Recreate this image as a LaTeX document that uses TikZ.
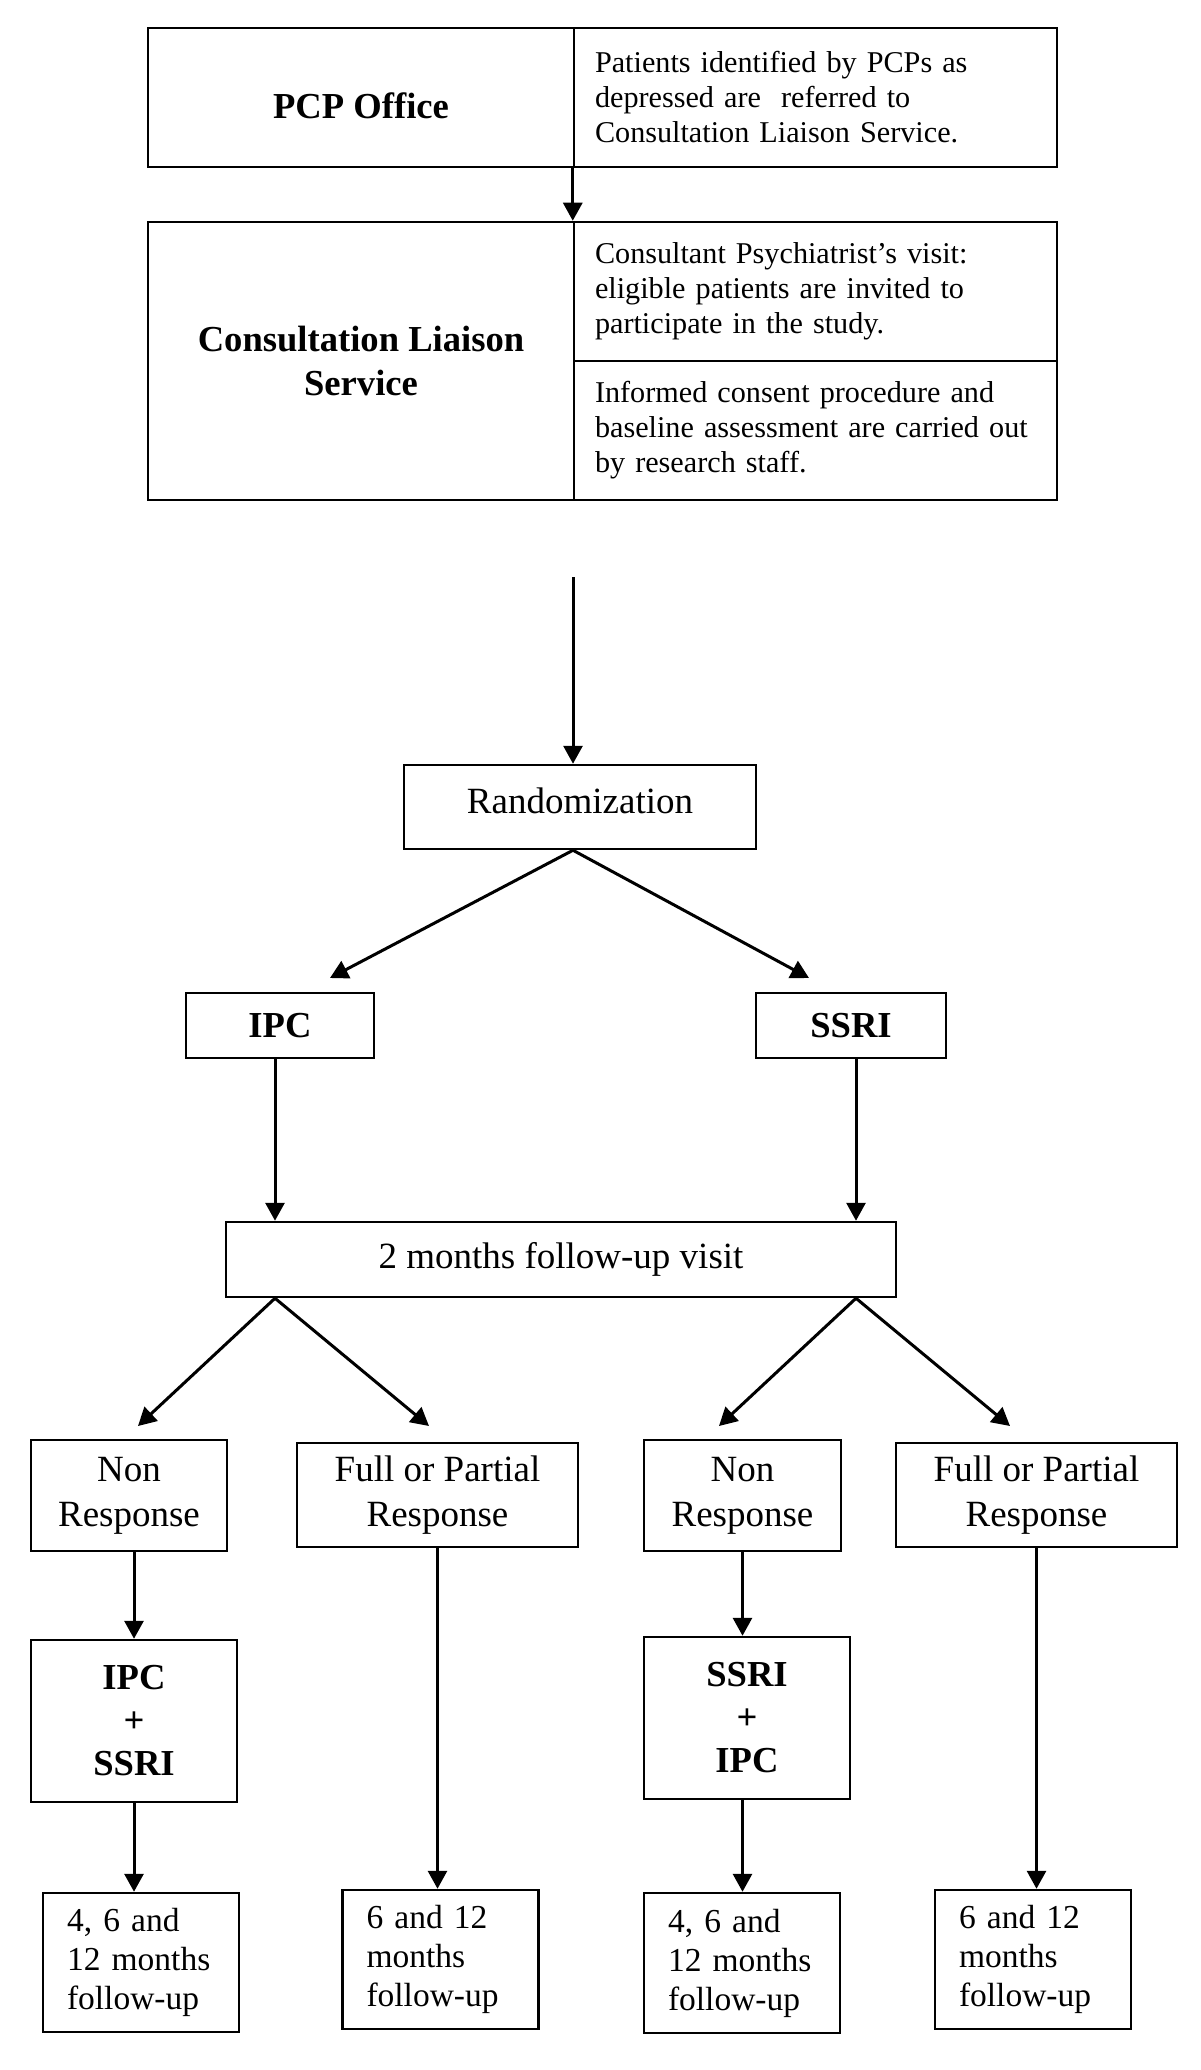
\documentclass[tikz,border=0pt]{standalone}
\usepackage{fontspec}
\setmainfont{Liberation Serif}
\usetikzlibrary{arrows.meta,calc}
\begin{document}
\begin{tikzpicture}[x=0.5pt,y=-0.5pt,
  box/.style={draw, line width=1.25pt, rectangle, inner sep=0pt, align=center},
  arr/.style={line width=1.5pt, -{Triangle[length=9pt,width=9.5pt]}},
  celltext/.style={font=\fontsize{15.1pt}{17.5pt}\selectfont, align=left, text width=220.5pt, inner xsep=10.5pt},
  title/.style={font=\bfseries\fontsize{18.3pt}{22pt}\selectfont},
  mid/.style={font=\fontsize{18.5pt}{22.5pt}\selectfont},
  midb/.style={font=\bfseries\fontsize{18.3pt}{21.5pt}\selectfont},
  futext/.style={font=\fontsize{16.75pt}{19.5pt}\selectfont, align=left, text width=74pt, inner xsep=12pt}
]
\useasboundingbox[fill=white] (0,0) rectangle (1200,2070);

% top block
\node[box, title, minimum width=213pt, minimum height=69.5pt] (pcpL) at (361,97.5) {\raisebox{-4pt}[\height][\depth]{PCP Office}};
\node[box, celltext, minimum height=69.5pt] (pcpR) at (815.5,97.5) {Patients identified by PCPs as\\ depressed are\ \ referred to\\ Consultation Liaison Service.};

\node[box, title, minimum width=213pt, minimum height=139pt] (clsL) at (361,361) {Consultation Liaison\\ Service};
\node[box, celltext, minimum height=69.5pt] (clsR1) at (815.5,291.5) {Consultant Psychiatrist’s visit:\\ eligible patients are invited to\\ participate in the study.};
\node[box, celltext, minimum height=69.5pt] (clsR2) at (815.5,430.5) {Informed consent procedure and\\ baseline assessment are carried out\\ by research staff.};

\draw[arr] (pcpR.south west) -- (clsR1.north west);

% randomization
\coordinate (src) at (573,577);
\node[box, mid, minimum width=176pt, minimum height=42pt] (rand) at (580,807) {\raisebox{3pt}[\height][\depth]{Randomization}};
\draw[arr] (src) -- (src |- rand.north);

\node[box, midb, minimum width=94pt, minimum height=32.5pt] (ipc) at (280,1025.5) {IPC};
\node[box, midb, minimum width=95pt, minimum height=32.5pt] (ssri) at (851,1025.5) {SSRI};
\coordinate (ipcIn) at (330,978);
\coordinate (ssriIn) at (809,978);
\draw[arr] (rand.south -| src) -- (ipcIn);
\draw[arr] (rand.south -| src) -- (ssriIn);

\node[box, mid, minimum width=335pt, minimum height=37.5pt] (two) at (561,1259.5) {2 months follow-up visit};
\coordinate (ipcX) at ($(ipc.south)+(-5,0)$);
\coordinate (ssriX) at ($(ssri.south)+(5,0)$);
\draw[arr] (ipcX) -- (ipcX |- two.north);
\draw[arr] (ssriX) -- (ssriX |- two.north);

\node[box, mid, minimum width=98pt, minimum height=55.5pt] (non1) at (129,1495.5) {Non\\ Response};
\node[box, mid, minimum width=140.5pt, minimum height=52pt] (full1) at (437.5,1495) {Full or Partial\\ Response};
\node[box, mid, minimum width=98.5pt, minimum height=55.5pt] (non2) at (742.5,1495.5) {Non\\ Response};
\node[box, mid, minimum width=140.5pt, minimum height=52pt] (full2) at (1036.5,1495) {Full or Partial\\ Response};

\coordinate (non1In) at (138,1426);
\coordinate (full1In) at (429,1426);
\coordinate (non2In) at (719,1426);
\coordinate (full2In) at (1010,1426);
\draw[arr] (two.south -| ipcX) -- (non1In);
\draw[arr] (two.south -| ipcX) -- (full1In);
\draw[arr] (two.south -| ssriX) -- (non2In);
\draw[arr] (two.south -| ssriX) -- (full2In);

\node[box, midb, minimum width=103pt, minimum height=81pt] (combo1) at (134,1721) {IPC\\ +\\ SSRI};
\node[box, midb, minimum width=103pt, minimum height=81pt] (combo2) at (747,1718) {SSRI\\ +\\ IPC};

\node[box, futext, minimum height=69.5pt] (fu1) at (141,1962.5) {4, 6 and\\ 12 months\\ follow-up};
\node[box, futext, minimum height=69.5pt] (fu2) at (440.5,1959.5) {6 and 12\\ months\\ follow-up};
\node[box, futext, minimum height=70pt] (fu3) at (742,1963) {4, 6 and\\ 12 months\\ follow-up};
\node[box, futext, minimum height=69.5pt] (fu4) at (1033,1959.5) {6 and 12\\ months\\ follow-up};

\draw[arr] (non1.south -| combo1.north) -- (combo1.north);
\draw[arr] (combo1.south) -- (combo1.south |- fu1.north);
\draw[arr] (non2.south) -- (non2.south |- combo2.north);
\draw[arr] (combo2.south -| non2.south) -- (non2.south |- fu3.north);
\draw[arr] (full1.south) -- (full1.south |- fu2.north);
\draw[arr] (full2.south) -- (full2.south |- fu4.north);
\end{tikzpicture}
\end{document}
